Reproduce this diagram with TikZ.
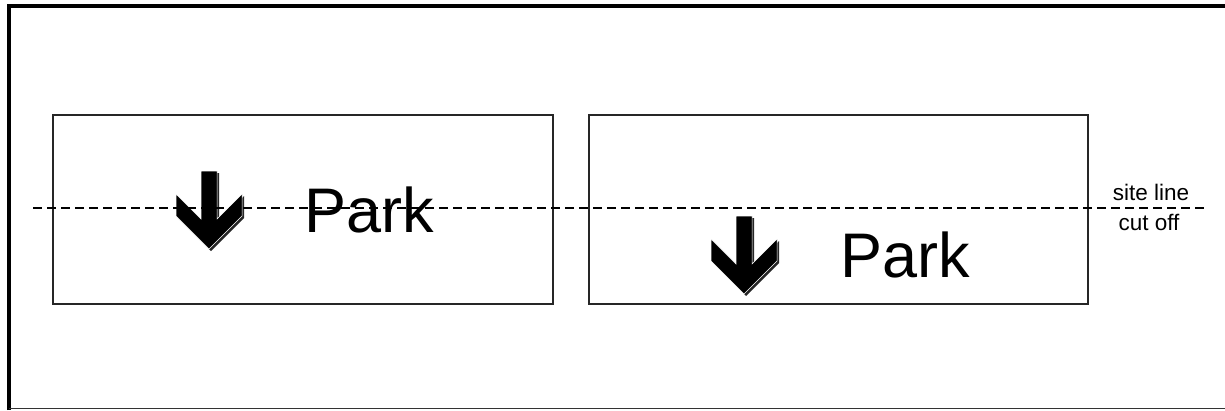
\documentclass[tikz,border=0pt]{standalone}
\usepackage{fontspec}
\setmainfont{Liberation Sans}
\begin{document}
\begin{tikzpicture}[x=1pt,y=-1pt,
  signbox/.style={draw=black!85,line width=1.3pt},
  parktext/.style={inner sep=0pt,anchor=base west,font=\fontsize{63}{63}\selectfont},
  smalltext/.style={inner sep=0pt,anchor=base,font=\fontsize{22.5}{23}\selectfont},
  siteline/.style={line width=1.2pt,dash pattern=on 9pt off 5pt},
  arrowshape/.pic={
    \fill[black!85] (2,2) -- ++(33,-33) -- ++(0,-22) -- ++(-25,25) -- ++(0,-48) -- ++(-16,0) -- ++(0,48) -- ++(-25,-25) -- ++(0,22) -- cycle;
    \filldraw[fill=black,draw=white,line width=0.5pt] (0,0) -- (33,-33) -- (33,-55) -- (8,-30) -- (8,-78) -- (-8,-78) -- (-8,-30) -- (-33,-55) -- (-33,-33) -- cycle;
  }]
\useasboundingbox (0,0) rectangle (1225,410);
% outer frame
\draw[line width=4pt] (9.3,410) -- (9.3,6.3) -- (1225,6.3);
\draw[black!80,line width=1.6pt] (9.3,408.3) -- (1225,408.3);
% boxes
\node[signbox,minimum width=500pt,minimum height=189pt,inner sep=0pt] (b1) at (303,209.5) {};
\node[signbox,minimum width=499pt,minimum height=189pt,inner sep=0pt] (b2) at (838.5,209.5) {};
% arrows
\pic at (209,249) {arrowshape};
\pic at (744,294) {arrowshape};
% Park
\node[parktext] (p1) at (304,232) {Park};
\node[parktext] (p2) at (840,277) {Park};
% site line
\coordinate (s0) at (33,208);
\coordinate (s1) at (1207,208);
\draw[siteline] (s0) -- (s1);
\node[smalltext] (t1) at (1151,200) {site line};
\node[smalltext] (t2) at (1149,230) {cut off};
\end{tikzpicture}
\end{document}
